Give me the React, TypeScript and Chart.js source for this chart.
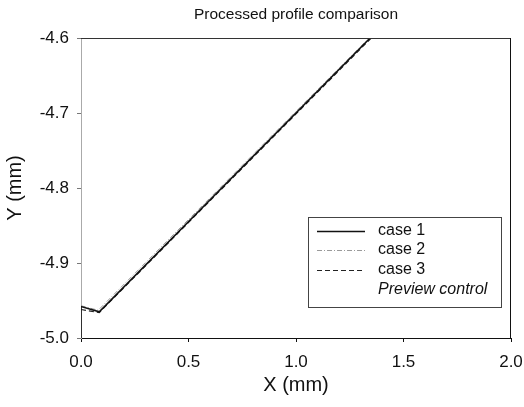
import React, { useEffect, useRef } from "react";
import { Chart, registerables } from "chart.js";
Chart.register(...registerables);

const TITLE = "Processed profile comparison";
const X_LABEL = "X (mm)";
const Y_LABEL = "Y (mm)";
const X_TICKS = [0, 0.5, 1.0, 1.5, 2.0];
const Y_TICKS = [-5.0, -4.9, -4.8, -4.7, -4.6];
const SERIES_NAMES = ["case 1", "case 2", "case 3", "Preview control"];

const case1X = [0, 0, 0.085, 1.345, 2.0];
const case1Y = [-5.0, -4.958, -4.965, -4.6, -4.6];
const case2X = [0, 0.08, 1.34, 2.0];
const case2Y = [-4.957, -4.963, -4.6, -4.6];
const case3X = [0, 0.085, 1.35, 2.0];
const case3Y = [-4.962, -4.966, -4.6, -4.6];
const previewX = [0, 0.085, 1.348, 2.0];
const previewY = [-4.96, -4.965, -4.6, -4.6];

const FONT = "'Liberation Sans', Arial, sans-serif";

const toPts = (xs: number[], ys: number[]) => xs.map((x, i) => ({ x, y: ys[i] }));

const STYLES = [
  { color: "#111111", dash: [] as number[], width: 1.6 },
  { color: "#9a9a9a", dash: [5, 2, 1, 2], width: 1 },
  { color: "#222222", dash: [5, 3], width: 1.2 },
  { color: "rgba(200,200,200,0.0)", dash: [] as number[], width: 1 },
];

const decorPlugin = {
  id: "decor",
  afterDraw(chart: any) {
    const { ctx, chartArea } = chart;
    const { left, right, top, bottom } = chartArea;
    ctx.save();
    // top and right frame
    ctx.strokeStyle = "#333";
    ctx.lineWidth = 1;
    ctx.beginPath();
    ctx.moveTo(left, top + 0.5);
    ctx.lineTo(right, top + 0.5);
    ctx.stroke();
    ctx.strokeStyle = "#111";
    ctx.beginPath();
    ctx.moveTo(right - 0.5, top);
    ctx.lineTo(right - 0.5, bottom);
    ctx.stroke();

    // title
    ctx.fillStyle = "#111";
    ctx.font = `15.5px ${FONT}`;
    ctx.textAlign = "center";
    ctx.textBaseline = "middle";
    ctx.fillText(TITLE, (left + right) / 2, 15);

    // axis titles
    ctx.font = `20px ${FONT}`;
    ctx.fillText(X_LABEL, (left + right) / 2, 385);
    ctx.save();
    ctx.translate(15, (top + bottom) / 2);
    ctx.rotate(-Math.PI / 2);
    ctx.fillText(Y_LABEL, 0, 0);
    ctx.restore();

    // legend
    const lx = 308, ly = 217, lw = 193, lh = 90;
    ctx.fillStyle = "#fff";
    ctx.fillRect(lx, ly, lw, lh);
    ctx.strokeStyle = "#444";
    ctx.lineWidth = 1;
    ctx.strokeRect(lx + 0.5, ly + 0.5, lw, lh);
    const rows = [231, 250, 270, 290];
    chart.data.datasets.forEach((ds: any, i: number) => {
      const y = rows[i];
      ctx.save();
      ctx.strokeStyle = ds.borderColor;
      ctx.lineWidth = ds.borderWidth;
      ctx.setLineDash(ds.borderDash || []);
      ctx.beginPath();
      ctx.moveTo(317, y + 0.5);
      ctx.lineTo(365, y + 0.5);
      ctx.stroke();
      ctx.restore();
      ctx.fillStyle = "#111";
      ctx.font = (i === 3 ? "italic " : "") + `16px ${FONT}`;
      ctx.textAlign = "left";
      ctx.textBaseline = "middle";
      ctx.fillText(ds.label, 378, y);
    });
    ctx.restore();
  },
};

export default function App() {
  const ref = useRef<HTMLCanvasElement | null>(null);
  useEffect(() => {
    if (!ref.current) return;
    const seriesX = [case1X, case2X, case3X, previewX];
    const seriesY = [case1Y, case2Y, case3Y, previewY];
    const chart = new Chart(ref.current, {
      type: "scatter",
      data: {
        datasets: SERIES_NAMES.map((name, i) => ({
          label: name,
          data: toPts(seriesX[i], seriesY[i]),
          showLine: true,
          borderColor: STYLES[i].color,
          borderWidth: STYLES[i].width,
          borderDash: STYLES[i].dash,
          pointRadius: 0,
          fill: false,
          tension: 0,
        })),
      },
      options: {
        animation: false,
        responsive: false,
        devicePixelRatio: 1,
        layout: { padding: { top: 38, right: 13, left: 0, bottom: 0 } },
        plugins: {
          legend: { display: false },
          title: { display: false },
          tooltip: { enabled: false },
        },
        scales: {
          x: {
            type: "linear",
            min: 0,
            max: 2,
            afterBuildTicks: (s: any) => {
              s.ticks = X_TICKS.map((v) => ({ value: v }));
            },
            afterFit: (s: any) => {
              s.height = 69;
              s.paddingLeft = 0;
              s.paddingRight = 0;
            },
            ticks: {
              color: "#111",
              font: { family: FONT, size: 17 },
              padding: 10,
              callback: (v: any) => Number(v).toFixed(1),
              maxRotation: 0,
            },
            grid: { display: true, drawOnChartArea: false, drawTicks: true, tickLength: 4, color: "#111" },
            border: { display: true, color: "#111", width: 1 },
          },
          y: {
            type: "linear",
            min: -5.0,
            max: -4.6,
            afterBuildTicks: (s: any) => {
              s.ticks = Y_TICKS.map((v) => ({ value: v }));
            },
            afterFit: (s: any) => {
              s.width = 81;
              s.paddingTop = 0;
              s.paddingBottom = 0;
            },
            ticks: {
              color: "#111",
              font: { family: FONT, size: 17 },
              padding: 8,
              callback: (v: any) => Number(v).toFixed(1),
            },
            grid: { display: true, drawOnChartArea: false, drawTicks: true, tickLength: 4, color: "#777" },
            border: { display: true, color: "#aaa", width: 1, dash: [2, 3] },
          },
        },
      },
      plugins: [decorPlugin],
    });
    return () => chart.destroy();
  }, []);
  return (
    <div style={{ position: "fixed", left: 0, top: 0, width: 524, height: 407, background: "#fff" }}>
      <canvas ref={ref} width={524} height={407} style={{ width: 524, height: 407, display: "block" }} />
    </div>
  );
}
